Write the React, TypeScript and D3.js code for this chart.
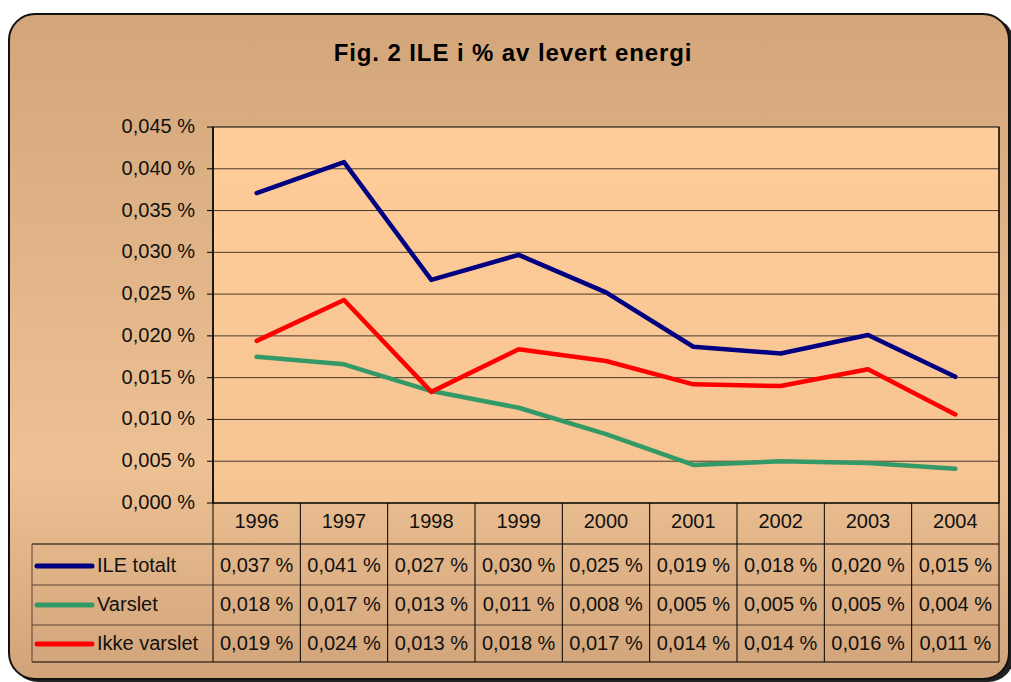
import * as d3 from "d3";

const years = ["1996", "1997", "1998", "1999", "2000", "2001", "2002", "2003", "2004"];
const ileTotalt = [0.0371, 0.0408, 0.0267, 0.0297, 0.0252, 0.0187, 0.0179, 0.0201, 0.0151];
const varslet = [0.0175, 0.0166, 0.0134, 0.0114, 0.00825, 0.00455, 0.005, 0.0048, 0.0041];
const ikkeVarslet = [0.0194, 0.0243, 0.0133, 0.0184, 0.017, 0.0142, 0.014, 0.016, 0.0106];
const yTicks = [0, 0.005, 0.01, 0.015, 0.02, 0.025, 0.03, 0.035, 0.04, 0.045];

const series = [
  { name: "ILE totalt", values: ileTotalt, color: "#000080" },
  { name: "Varslet", values: varslet, color: "#339966" },
  { name: "Ikke varslet", values: ikkeVarslet, color: "#FF0000" },
];

const W = 1011;
const H = 682;
const PLOT = { left: 213, right: 999, top: 127, bottom: 503 };
const TABLE_LEFT = 32;
const ROWS = [544, 585, 625, 662]; // bottom edges of header, row1, row2, row3
const BASELINES = [528, 572, 611, 650]; // text baselines: header, row1, row2, row3

const FONT = "'Liberation Sans', Arial, sans-serif";

const fmt = (v: number) => d3.format(".3f")(v).replace(".", ",") + " %";

export default function App() {
  const x = d3.scaleBand<string>().domain(years).range([PLOT.left, PLOT.right]).padding(0);
  const y = d3.scaleLinear().domain([0, 0.045]).range([PLOT.bottom, PLOT.top]);
  const cx = (yr: string) => (x(yr) ?? 0) + x.bandwidth() / 2;

  const line = d3
    .line<number>()
    .x((_, i) => cx(years[i]))
    .y((d) => y(d));

  return (
    <svg
      width={W}
      height={H}
      style={{ position: "absolute", left: 0, top: 0, fontFamily: FONT }}
    >
      <defs>
        <linearGradient id="bg" x1="0" y1="0" x2="0" y2="1">
          <stop offset="0" stopColor="#D2A67A" />
          <stop offset="0.68" stopColor="#EEC194" />
          <stop offset="1" stopColor="#D0A379" />
        </linearGradient>
        <linearGradient id="plotbg" x1="0" y1="0" x2="0" y2="1">
          <stop offset="0" stopColor="#FFCC99" />
          <stop offset="1" stopColor="#F5C492" />
        </linearGradient>
      </defs>
      <rect x={0} y={0} width={W} height={H} fill="#fff" />
      {/* shadow + frame */}
      <rect x={12} y={17} width={1002} height={665} rx={26} fill="#222" />
      <rect x={9} y={14} width={1000} height={665} rx={26} fill="url(#bg)" stroke="#111" strokeWidth={2} />

      <text
        x={513}
        y={61}
        textAnchor="middle"
        fontSize={24}
        fontWeight="bold"
        letterSpacing={0.9}
        fill="#000"
      >
        Fig. 2 ILE i % av levert energi
      </text>

      {/* plot area */}
      <rect
        x={PLOT.left}
        y={PLOT.top}
        width={PLOT.right - PLOT.left}
        height={PLOT.bottom - PLOT.top}
        fill="url(#plotbg)"
        stroke="#000"
        strokeWidth={1}
      />
      {yTicks.map((t) => (
        <g key={t}>
          {t > 0 && t < 0.045 && (
            <line x1={PLOT.left} x2={PLOT.right} y1={y(t)} y2={y(t)} stroke="#4a3a2c" strokeWidth={1} />
          )}
          <line x1={PLOT.left - 6} x2={PLOT.left} y1={y(t)} y2={y(t)} stroke="#000" />
          <text x={195} y={y(t) + 6} textAnchor="end" fontSize={20} fill="#111">
            {fmt(t)}
          </text>
        </g>
      ))}
      <line x1={PLOT.left} x2={PLOT.left} y1={PLOT.top} y2={PLOT.bottom} stroke="#000" strokeWidth={1.5} />

      {series.map((s) => (
        <path
          key={s.name}
          d={line(s.values) ?? ""}
          fill="none"
          stroke={s.color}
          strokeWidth={4.5}
          strokeLinejoin="round"
          strokeLinecap="round"
        />
      ))}

      {/* data table */}
      {years.map((yr) => (
        <text key={yr} x={cx(yr)} y={BASELINES[0]} textAnchor="middle" fontSize={20} fill="#111">
          {yr}
        </text>
      ))}
      {/* horizontal table lines */}
      <line x1={PLOT.left} x2={PLOT.right} y1={PLOT.bottom} y2={PLOT.bottom} stroke="#000" />
      <line x1={TABLE_LEFT} x2={PLOT.right} y1={ROWS[0]} y2={ROWS[0]} stroke="#000" />
      <line x1={TABLE_LEFT} x2={PLOT.right} y1={ROWS[1]} y2={ROWS[1]} stroke="#5a4530" />
      <line x1={TABLE_LEFT} x2={PLOT.right} y1={ROWS[2]} y2={ROWS[2]} stroke="#5a4530" />
      <line x1={TABLE_LEFT} x2={PLOT.right} y1={ROWS[3]} y2={ROWS[3]} stroke="#000" />
      {/* vertical table lines */}
      <line x1={TABLE_LEFT} x2={TABLE_LEFT} y1={ROWS[0]} y2={ROWS[3]} stroke="#5a4530" />
      {years.map((yr) => (
        <line key={yr} x1={x(yr)} x2={x(yr)} y1={PLOT.bottom} y2={ROWS[3]} stroke="#000" />
      ))}
      <line x1={PLOT.right} x2={PLOT.right} y1={PLOT.top} y2={ROWS[3]} stroke="#000" />

      {series.map((s, si) => {
        const base = BASELINES[si + 1];
        return (
          <g key={s.name}>
            <line x1={37} x2={92} y1={base - 6} y2={base - 6} stroke={s.color} strokeWidth={5} strokeLinecap="round" />
            <text x={97} y={base} fontSize={20} fill="#111">
              {s.name}
            </text>
            {s.values.map((v, i) => (
              <text key={i} x={cx(years[i])} y={base} textAnchor="middle" fontSize={20} fill="#111">
                {fmt(v)}
              </text>
            ))}
          </g>
        );
      })}
    </svg>
  );
}
